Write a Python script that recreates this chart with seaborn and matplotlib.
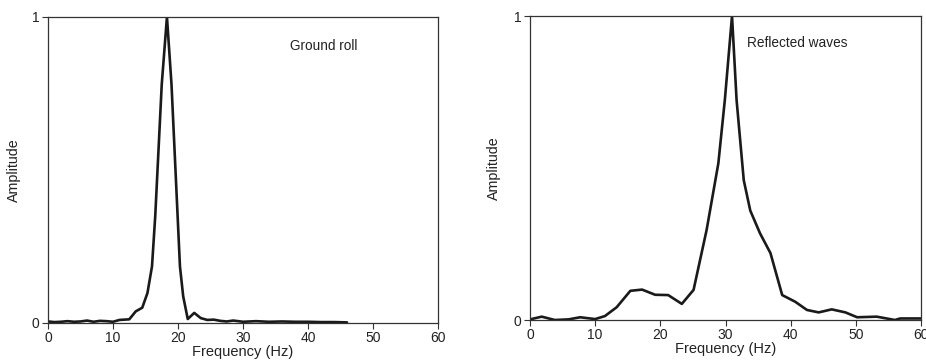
import matplotlib
matplotlib.use("Agg")
import matplotlib.pyplot as plt
import seaborn as sns
import pandas as pd

# Ground roll spectrum
ground_freq = [0, 1, 2, 3, 4, 5, 6, 7, 8, 9, 10, 11, 12.5, 13.5, 14.5, 15.3, 16,
               16.5, 17, 17.5, 18.3, 19, 19.7, 20.3, 20.8, 21.5, 22.5, 23.5, 24.5,
               25.5, 26.5, 27.5, 28.5, 30, 32, 34, 36, 38, 40, 42, 44, 46]
ground_amp = [0.005, 0.003, 0.004, 0.006, 0.004, 0.005, 0.008, 0.004, 0.007, 0.006,
              0.004, 0.01, 0.012, 0.038, 0.05, 0.098, 0.185, 0.35, 0.565, 0.78, 1.0,
              0.78, 0.46, 0.185, 0.087, 0.013, 0.033, 0.016, 0.01, 0.011, 0.007,
              0.005, 0.008, 0.004, 0.006, 0.004, 0.005, 0.004, 0.004, 0.003, 0.003, 0.002]

# Reflected waves spectrum
refl_freq = [0, 1.8, 3.8, 5.9, 7.7, 10, 11.5, 13.3, 15.4, 17.2, 19.2, 21.2, 23.3,
             25.1, 27.1, 28.9, 29.9, 31.0, 31.7, 32.8, 33.8, 35.3, 36.9, 38.7, 40.7,
             42.5, 44.3, 46.3, 48.4, 50.2, 53.2, 56, 56.8, 60]
refl_amp = [0.002, 0.011, 0.0, 0.002, 0.009, 0.003, 0.013, 0.042, 0.096, 0.10, 0.083,
            0.082, 0.053, 0.099, 0.296, 0.515, 0.724, 1.0, 0.724, 0.46, 0.36, 0.285,
            0.22, 0.082, 0.06, 0.033, 0.025, 0.035, 0.025, 0.009, 0.011, 0.0, 0.005, 0.005]

x_ticks = [0, 10, 20, 30, 40, 50, 60]
y_ticks = [0, 1]
x_label = "Frequency (Hz)"
y_label = "Amplitude"

sns.set_style("ticks")
plt.rcParams['font.family'] = ['Liberation Sans', 'DejaVu Sans']

fig = plt.figure(figsize=(9.26, 3.6), dpi=100)
W, H = 926, 360
ax1 = fig.add_axes([48 / W, (H - 323) / H, 390 / W, 306 / H])
ax2 = fig.add_axes([530 / W, (H - 320) / H, 391 / W, 304 / H])

panels = [
    (ax1, ground_freq, ground_amp, "Ground roll", 37.2, 0.905),
    (ax2, refl_freq, refl_amp, "Reflected waves", 33.3, 0.91),
]

for ax, fx, fy, title, tx, ty in panels:
    df = pd.DataFrame({"f": fx, "a": fy})
    sns.lineplot(data=df, x="f", y="a", ax=ax, color="#1a1a1a", linewidth=1.9,
                 sort=False, estimator=None)
    ax.set_xlim(0, 60)
    ax.set_ylim(0, 1)
    ax.set_xticks(x_ticks)
    ax.set_yticks(y_ticks)
    ax.set_xticklabels([str(t) for t in x_ticks])
    ax.set_yticklabels([str(t) for t in y_ticks])
    ax.tick_params(axis="both", direction="out", length=4, width=0.8,
                   labelsize=10, color="#333333", labelcolor="#222222", pad=2)
    for s in ax.spines.values():
        s.set_visible(True)
        s.set_color("#333333")
        s.set_linewidth(0.9)
    ax.set_xlabel(x_label, fontsize=10.5, color="#222222", labelpad=0)
    ax.set_ylabel(y_label, fontsize=10.3, color="#222222")
    ax.text(tx, ty, title, fontsize=9.8, color="#222222", va="center", ha="left")

ax1.yaxis.set_label_coords(-0.07, 0.5)
ax2.yaxis.set_label_coords(-0.075, 0.5)

fig.savefig("out.png", dpi=100)
